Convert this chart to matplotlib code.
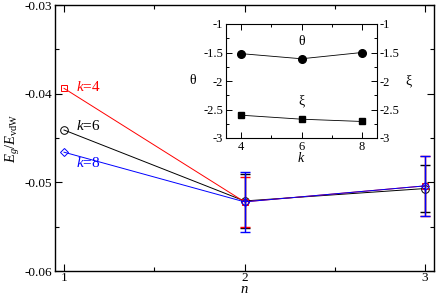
import matplotlib
matplotlib.use("Agg")
import matplotlib.pyplot as plt
from matplotlib.ticker import MultipleLocator

plt.rcParams["font.family"] = ["Liberation Serif", "DejaVu Serif"]
plt.rcParams["mathtext.fontset"] = "custom"
plt.rcParams["mathtext.rm"] = "Liberation Serif"
plt.rcParams["mathtext.it"] = "Liberation Serif:italic"

# main panel: E_g/E_vdW vs n for three k values
n_vals = [1, 2, 3]
e_k4 = [-0.0394, -0.0522, -0.0504]
e_k6 = [-0.0441, -0.0521, -0.0507]
e_k8 = [-0.0466, -0.0522, -0.0504]
err_k4 = [0, 0.0028, 0.0034]
err_k6 = [0, 0.0030, 0.0027]
err_k8 = [0, 0.0034, 0.0034]

# inset: exponents vs k
k_vals = [4, 6, 8]
theta = [-1.52, -1.61, -1.50]
xi = [-2.60, -2.67, -2.71]

fig = plt.figure(figsize=(4.36, 2.96), dpi=100)
ax = fig.add_axes([55 / 436, 25 / 296, 379 / 436, 266 / 296])

series = [
    (e_k6, err_k6, "#000000", "o", 5.5),
    (e_k4, err_k4, "#ff0000", "s", 5),
    (e_k8, err_k8, "#0000ff", "D", 4),
]
for vals, errs, col, mk, ms in series:
    ax.plot(n_vals, vals, color=col, lw=0.7, marker=mk, ms=ms,
            mfc="none", mec=col, mew=0.7)
    ax.errorbar(n_vals[1:], vals[1:], yerr=errs[1:], fmt="none",
                ecolor=col, elinewidth=1.0, capsize=3.5, capthick=1.0)

ax.text(1.065, -0.0392, "$k$=4", color="#ff0000", fontsize=11, va="center")
ax.text(1.065, -0.0437, "$k$=6", color="#000000", fontsize=11, va="center")
ax.text(1.065, -0.0478, "$k$=8", color="#0000ff", fontsize=11, va="center")

ax.set_xlim(0.95, 3.05)
ax.set_ylim(-0.06, -0.03)
ax.set_xticks([1, 2, 3])
ax.set_yticks([-0.06, -0.05, -0.04, -0.03])
ax.set_yticklabels(["-0.06", "-0.05", "-0.04", "-0.03"])
ax.xaxis.set_minor_locator(MultipleLocator(0.5))
ax.yaxis.set_minor_locator(MultipleLocator(0.005))
ax.tick_params(which="both", direction="in", top=True, right=True,
               labelsize=9.5, width=0.8, pad=2)
ax.tick_params(axis="x", pad=1)
ax.tick_params(which="major", length=5)
ax.tick_params(which="minor", length=3)
ax.set_xlabel("$n$", fontsize=10.5, labelpad=-1)
ax.set_ylabel("$E_g/E_{\\rm vdW}$", fontsize=10.5, labelpad=2)
for s in ax.spines.values():
    s.set_linewidth(1.0)

# inset
ins = fig.add_axes([226 / 436, (296 - 138) / 296, 151 / 436, 114 / 296])
ins.plot(k_vals, theta, color="black", lw=0.6, marker="o", ms=5.5)
ins.plot(k_vals, xi, color="black", lw=0.6, marker="s", ms=5)
ins.text(6, -1.31, "θ", fontsize=10, ha="center", va="center")
ins.text(6, -2.34, "ξ", fontsize=10, ha="center", va="center")
ins.set_xlim(3.5, 8.5)
ins.set_ylim(-3, -1)
ins.set_xticks([4, 6, 8])
ins.set_yticks([-3, -2.5, -2, -1.5, -1])
ins.set_yticklabels(["-3", "-2.5", "-2", "-1.5", "-1"])
ins.xaxis.set_minor_locator(MultipleLocator(1))
ins.yaxis.set_minor_locator(MultipleLocator(0.25))
ins.tick_params(which="both", direction="in", top=True, right=True,
                labelright=True, labelsize=9, width=0.7, pad=2)
ins.tick_params(which="major", length=4)
ins.tick_params(which="minor", length=2)
ins.set_xlabel("$k$", fontsize=10, labelpad=-1)
ins.text(-0.22, 0.5, "θ", fontsize=10, ha="center", va="center",
         transform=ins.transAxes)
ins.text(1.21, 0.5, "ξ", fontsize=10, ha="center", va="center",
         transform=ins.transAxes)

fig.savefig("out.png", dpi=100)
